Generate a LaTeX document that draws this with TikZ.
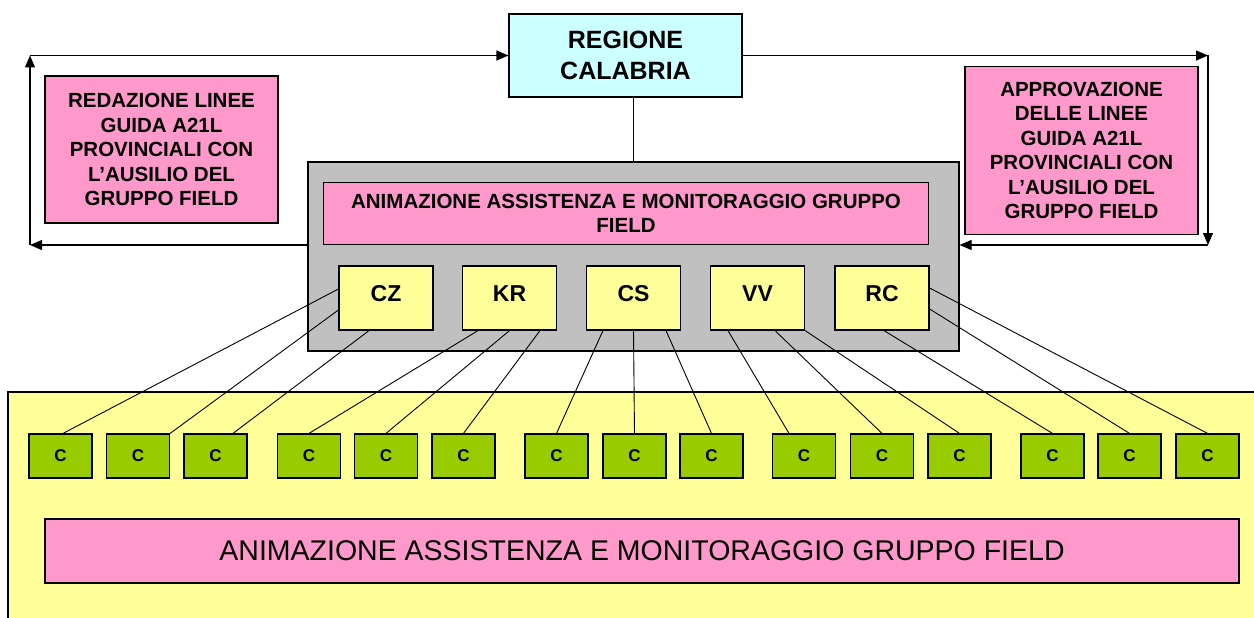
\documentclass[tikz,border=0pt]{standalone}
\usepackage{fontspec}
\setmainfont{Liberation Sans}
\usetikzlibrary{arrows.meta,calc}
\definecolor{pinkbox}{HTML}{FF99CC}
\definecolor{cyanbox}{HTML}{CCFFFF}
\definecolor{graybox}{HTML}{C0C0C0}
\definecolor{yellowbox}{HTML}{FFFF99}
\definecolor{greenbox}{HTML}{99CC00}
\begin{document}
\begin{tikzpicture}[x=1pt,y=-1pt,
  box/.style={draw=black,line width=1.2pt,inner sep=0pt,align=center},
  sidebox/.style={box,fill=pinkbox,minimum width=233pt,font=\bfseries\fontsize{20.5}{24.5}\selectfont},
  provbox/.style={box,fill=yellowbox,minimum width=94pt,minimum height=64pt,font=\bfseries\fontsize{23}{26}\selectfont,text height=17pt,text depth=11pt},
  cbox/.style={box,fill=greenbox,minimum width=63pt,minimum height=44pt,font=\bfseries\fontsize{17}{19}\selectfont},
  arr/.style={line width=1.2pt,-{Triangle[length=12pt,width=10pt]}},
  conn/.style={line width=0.9pt}]
\useasboundingbox (0,0) rectangle (1254,618);
\fill[white] (0,0) rectangle (1254,618);
% bottom yellow area
\fill[yellowbox] (8,392) rectangle (1254,618);
\draw[line width=1.2pt] (8,618) -- (8,392) -- (1254,392);
% top
\node[box,fill=cyanbox,minimum width=233pt,minimum height=83pt,font=\bfseries\fontsize{25}{31}\selectfont] (reg) at (625.5,55.5) {REGIONE\\CALABRIA};
\node[sidebox,minimum height=147pt] (left) at (161.5,149.5) {REDAZIONE LINEE\\GUIDA A21L\\PROVINCIALI CON\\L’AUSILIO DEL\\GRUPPO FIELD};
\node[sidebox,minimum height=168pt] (right) at (1081.5,150.5) {APPROVAZIONE\\DELLE LINEE\\GUIDA A21L\\PROVINCIALI CON\\L’AUSILIO DEL\\GRUPPO FIELD};
% gray group
\node[box,fill=graybox,minimum width=651pt,minimum height=189pt] (gray) at (633.5,256.5) {};
\node[box,fill=pinkbox,minimum width=605pt,minimum height=62pt,font=\bfseries\fontsize{20.5}{24}\selectfont] (mid) at (626,213.5) {ANIMAZIONE ASSISTENZA E MONITORAGGIO GRUPPO\\FIELD};
\node[provbox] (cz) at (386,298) {CZ};
\node[provbox] (kr) at (509.5,298) {KR};
\node[provbox] (cs) at (633.5,298) {CS};
\node[provbox] (vv) at (757.5,298) {VV};
\node[provbox] (rc) at (882,298) {RC};
% C boxes
\foreach \i/\x in {1/60.5,2/138,3/215.5,4/309,5/386,6/463.5,7/556.5,8/634.5,9/711.5,10/804,11/882,12/959.5,13/1052.5,14/1129.5,15/1207.5}
  \node[cbox] (c\i) at (\x,456) {C};
% bottom pink
\node[box,fill=pinkbox,minimum width=1194pt,minimum height=64pt,font=\fontsize{28.5}{32}\selectfont] (bottom) at (642,551) {ANIMAZIONE ASSISTENZA E MONITORAGGIO GRUPPO FIELD};
% connector regione - gray
\draw[line width=1.2pt] (gray.north |- reg.south) -- (gray.north);
% left loop
\coordinate (lb) at (30,245);
\coordinate (lt) at (30,55.5);
\draw[arr] ([yshift=11.5pt]gray.west) -- (lb);
\draw[arr] (lb) -- (lt);
\draw[arr] (lt) -- (reg.west);
% right loop
\coordinate (rt) at (1208,55.5);
\coordinate (rb) at (1208,245);
\draw[arr] (reg.east) -- (rt);
\draw[arr] (rt) -- (rb);
\draw[arr] (rb) -- ([yshift=11.5pt]gray.east);
% province to C
\draw[conn] ([yshift=9pt]cz.west) -- ([xshift=2.5pt]c1.north);
\draw[conn] ([yshift=-12pt]cz.west) -- (c2.north east);
\draw[conn] ([xshift=-17pt]cz.south) -- ([xshift=17.5pt]c3.north);
\draw[conn] ([xshift=-31.5pt]kr.south) -- (c4.north);
\draw[conn] (kr.south) -- (c5.north);
\draw[conn] ([xshift=30.5pt]kr.south) -- (c6.north);
\draw[conn] ([xshift=-30.5pt]cs.south) -- (c7.north);
\draw[conn] (cs.south) -- (c8.north);
\draw[conn] ([xshift=32.5pt]cs.south) -- (c9.north);
\draw[conn] ([xshift=-29.5pt]vv.south) -- ([xshift=-15pt]c10.north);
\draw[conn] ([xshift=17.5pt]vv.south) -- (c11.north);
\draw[conn] (vv.south east) -- (c12.north);
\draw[conn] ([xshift=2pt]rc.south) -- (c13.north);
\draw[conn] ([yshift=-11pt]rc.east) -- (c14.north);
\draw[conn] ([yshift=10pt]rc.east) -- (c15.north);
\end{tikzpicture}
\end{document}
